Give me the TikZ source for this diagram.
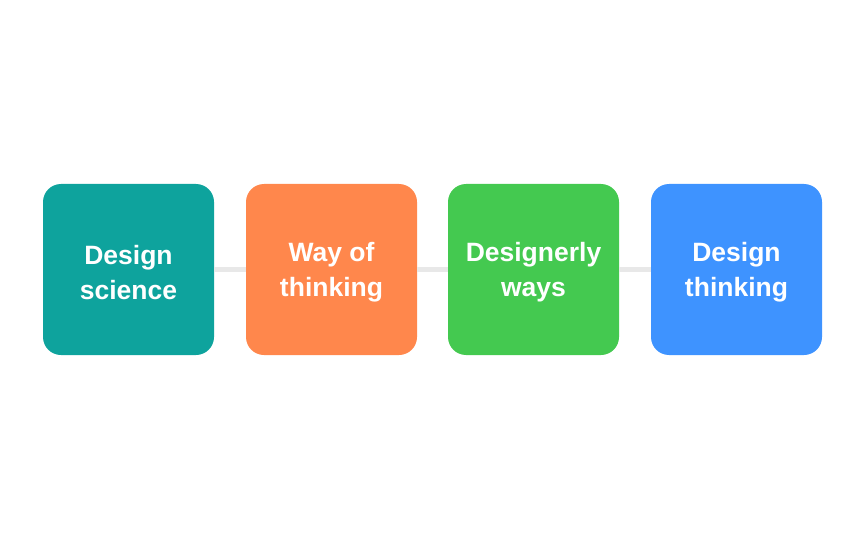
\documentclass[tikz,border=0pt]{standalone}
\usepackage{fontspec}
\setmainfont{Liberation Sans}
\usepackage{tikz}
\usetikzlibrary{positioning}
\definecolor{tealbox}{RGB}{14,163,157}
\definecolor{orangebox}{RGB}{255,135,76}
\definecolor{greenbox}{RGB}{68,201,80}
\definecolor{bluebox}{RGB}{62,147,255}
\definecolor{linkgray}{RGB}{232,232,232}
\tikzset{
    stagebox/.style={rounded corners=18pt, minimum width=171pt, minimum height=171pt,
        inner sep=0pt, text=white, align=center,
        font=\fontsize{26.5}{35}\selectfont\bfseries},
    stagetext/.style={text=white, align=center, inner sep=0pt,
        font=\fontsize{26.5}{35}\selectfont\bfseries},
    link/.style={draw=linkgray, line width=5pt}
}

\begin{document}
\begin{tikzpicture}[x=1pt, y=-1pt]
    \useasboundingbox (0,0) rectangle (864,540);
    \node[stagebox, fill=tealbox] (ds) at (128.5,269.5) {};
    \node[stagebox, fill=orangebox] (wot) at (331.5,269.5) {};
    \node[stagebox, fill=greenbox] (dw) at (533.5,269.5) {};
    \node[stagebox, fill=bluebox] (dt) at (736.5,269.5) {};
    \node[stagetext] at (128.5,272.5) {Design\\science};
    \node[stagetext] at (331.5,272.5) {Way of\\thinking};
    \node[stagetext] at (533.5,272.5) {Designerly\\ways};
    \node[stagetext] at (736.5,272.5) {Design\\thinking};
    \draw[link] (ds) -- (wot);
    \draw[link] (wot) -- (dw);
    \draw[link] (dw) -- (dt);
\end{tikzpicture}
\end{document}
